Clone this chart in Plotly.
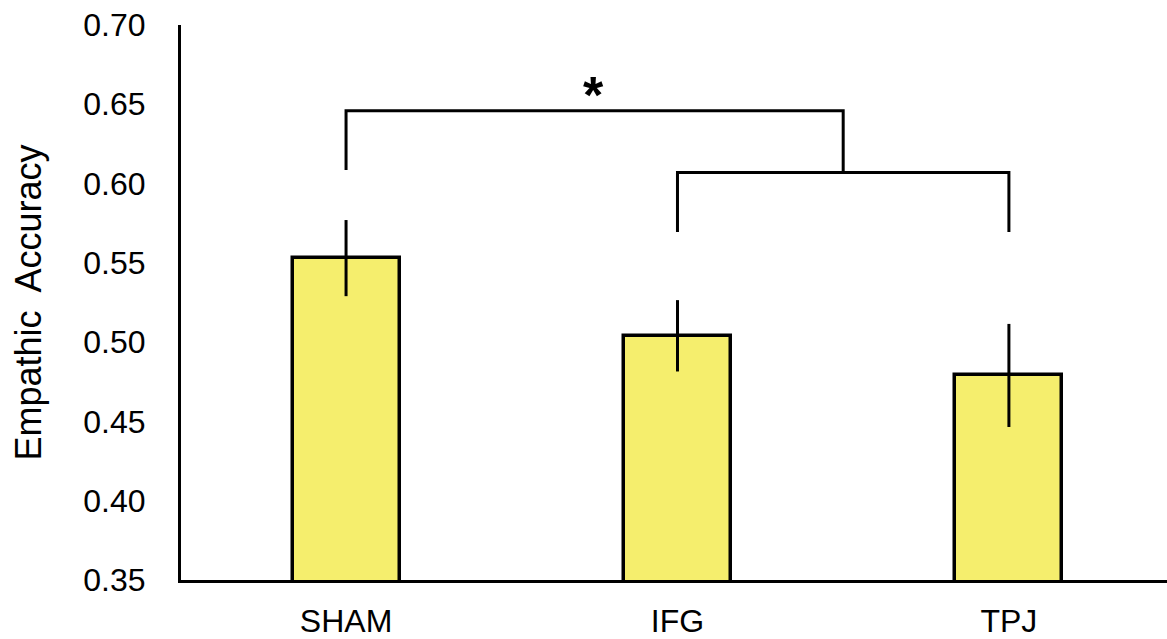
import plotly.graph_objects as go

# Group means and standard errors
groups = ["SHAM", "IFG", "TPJ"]
accuracy = [0.553, 0.504, 0.479]
std_err = [0.024, 0.0225, 0.0325]

# Significance brackets: x positions (group index) and y levels
outer_x = [0, 0, 1.5, 1.5]
outer_y = [0.6085, 0.646, 0.646, 0.607]
inner_x = [1, 1, 2, 2]
inner_y = [0.5695, 0.607, 0.607, 0.5695]
star_x = 0.748
star_y = 0.662

y_ticks = [0.35, 0.40, 0.45, 0.50, 0.55, 0.60, 0.65, 0.70]

font_family = "Liberation Sans, Arial, sans-serif"
x_idx = list(range(len(groups)))

fig = go.Figure()

fig.add_trace(go.Bar(
    x=x_idx,
    y=accuracy,
    width=0.323,
    marker=dict(color="#F5EE6D", line=dict(color="black", width=3.5)),
    error_y=dict(type="data", array=std_err, visible=True,
                 color="black", thickness=3, width=0),
    showlegend=False,
))

for bx, by in [(outer_x, outer_y), (inner_x, inner_y)]:
    fig.add_trace(go.Scatter(
        x=bx, y=by, mode="lines",
        line=dict(color="black", width=3),
        showlegend=False, hoverinfo="skip",
    ))

fig.add_annotation(
    x=star_x, y=star_y, text="<b>*</b>", showarrow=False,
    font=dict(family=font_family, size=52, color="black"),
    xanchor="center", yanchor="middle", yshift=-10,
)

fig.update_layout(
    width=1167, height=639,
    margin=dict(l=181, r=0, t=25, b=57),
    paper_bgcolor="white", plot_bgcolor="white",
    font=dict(family=font_family, color="black"),
    bargap=0,
)

fig.update_xaxes(
    range=[-0.498, 2.477],
    tickvals=x_idx, ticktext=groups,
    showline=True, linecolor="black", linewidth=3,
    showgrid=False, zeroline=False, ticks="",
    tickfont=dict(size=32, color="black"),
    ticklabelstandoff=11,
)

fig.update_yaxes(
    range=[0.35, 0.70],
    tickvals=y_ticks, ticktext=[f"{v:.2f}" for v in y_ticks],
    showline=True, linecolor="black", linewidth=3,
    showgrid=False, zeroline=False, ticks="",
    tickfont=dict(size=32, color="black"),
    ticklabelstandoff=26,
    title=dict(text="Empathic  Accuracy", font=dict(size=36, color="black"), standoff=31),
)

fig.write_html("out.html")
